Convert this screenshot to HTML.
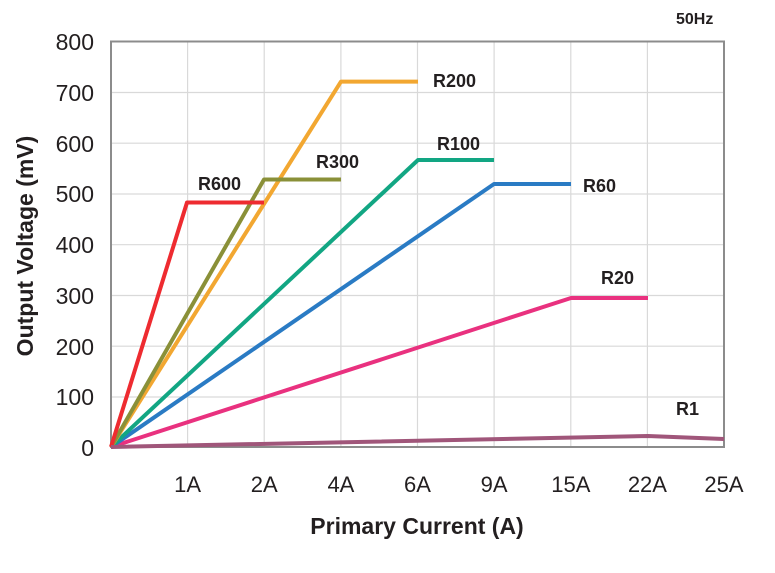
<!DOCTYPE html>
<html><head><style>body{margin:0;background:#fff}</style></head><body>
<svg width="775" height="568" xmlns="http://www.w3.org/2000/svg" font-family="Liberation Sans, sans-serif">
<rect width="775" height="568" fill="#fff"/>
<g stroke="#d9d9d9" stroke-width="1.2">
<line x1="111" x2="724" y1="92.5" y2="92.5"/><line x1="111" x2="724" y1="143.2" y2="143.2"/>
<line x1="111" x2="724" y1="194" y2="194"/><line x1="111" x2="724" y1="244.7" y2="244.7"/>
<line x1="111" x2="724" y1="295.5" y2="295.5"/><line x1="111" x2="724" y1="346.2" y2="346.2"/>
<line x1="111" x2="724" y1="397" y2="397"/>
<line x1="187.6" x2="187.6" y1="42" y2="447"/><line x1="264.2" x2="264.2" y1="42" y2="447"/>
<line x1="340.9" x2="340.9" y1="42" y2="447"/><line x1="417.5" x2="417.5" y1="42" y2="447"/>
<line x1="494.1" x2="494.1" y1="42" y2="447"/><line x1="570.8" x2="570.8" y1="42" y2="447"/>
<line x1="647.4" x2="647.4" y1="42" y2="447"/>
</g>
<rect x="111" y="41.5" width="613" height="405.5" fill="none" stroke="#8c8c8c" stroke-width="2"/>
<g fill="none" stroke-width="4" stroke-linejoin="round">
<polyline stroke="#e9317f" points="111,447 571,298 648,298"/>
<polyline stroke="#2a7bc4" points="111,447 494,184 571,184"/>
<polyline stroke="#12a683" points="111,447 418,160 494,160"/>
<polyline stroke="#f2a731" points="111,447 341,81.6 418,81.6"/>
<polyline stroke="#8a9038" points="111,447 264,179.5 341,179.5"/>
<polyline stroke="#ee2b30" points="111,447 187,202.5 264,202.5"/>
<polyline stroke="#a0567a" points="111,447 648,436 724,439"/>
</g>
<g font-weight="bold" font-size="18" fill="#231f20">
<text x="198" y="190">R600</text><text x="316" y="168">R300</text>
<text x="433" y="87">R200</text><text x="437" y="150">R100</text>
<text x="583" y="192">R60</text><text x="601" y="284">R20</text>
<text x="676" y="415">R1</text>
<text x="676" y="24" font-size="16">50Hz</text>
</g>
<g font-size="23" fill="#231f20" text-anchor="end">
<text x="94" y="50">800</text><text x="94" y="101">700</text><text x="94" y="152">600</text>
<text x="94" y="202">500</text><text x="94" y="253">400</text><text x="94" y="304">300</text>
<text x="94" y="355">200</text><text x="94" y="405">100</text><text x="94" y="456">0</text>
</g>
<g font-size="22" fill="#231f20" text-anchor="middle">
<text x="187.6" y="492">1A</text><text x="264.2" y="492">2A</text><text x="340.9" y="492">4A</text>
<text x="417.5" y="492">6A</text><text x="494.1" y="492">9A</text><text x="570.8" y="492">15A</text>
<text x="647.4" y="492">22A</text><text x="724" y="492">25A</text>
</g>
<text x="417" y="534" font-size="23" font-weight="bold" text-anchor="middle" fill="#231f20">Primary Current (A)</text>
<text transform="translate(33,246) rotate(-90)" font-size="23" font-weight="bold" text-anchor="middle" fill="#231f20">Output Voltage (mV)</text>
</svg>
</body></html>
